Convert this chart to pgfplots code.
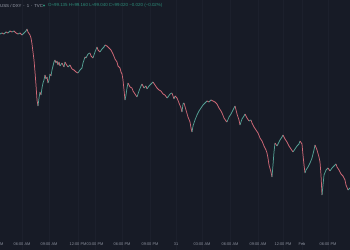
\documentclass[border=0pt]{standalone}
\usepackage{pgfplots}
\pgfplotsset{compat=1.18}
\usepackage{fontspec}
\setmainfont{Liberation Sans}
\definecolor{bgc}{RGB}{23,27,38}
\definecolor{gridc}{RGB}{28,32,44}
\definecolor{tickc}{RGB}{140,145,158}
\definecolor{titlec}{RGB}{160,164,176}
\definecolor{ohlcc}{RGB}{44,140,120}
\begin{document}
\begin{tikzpicture}
\path[use as bounding box] (0,0) rectangle (10cm,7.142857cm);
\clip (0,0) rectangle (10cm,7.142857cm);
\begin{axis}[
  at={(0,0)}, anchor=south west,
  scale only axis, width=10cm, height=7.142857cm,
  xmin=0, xmax=350, ymin=0, ymax=250,
  axis background/.style={fill=bgc},
  axis line style={draw=none},
  major tick length=0pt,
  ytick=\empty,
  xtick={22,49,78,95,122,150,176,202,230,258,283,302,328},
  xticklabels={06:00 AM,09:00 AM,12:00 PM,03:00 PM,06:00 PM,09:00 PM,31,03:00 AM,06:00 AM,09:00 AM,12:00 PM,Feb,06:00 PM},
  xticklabel style={font=\fontsize{3.2}{4}\selectfont, text=tickc, anchor=center, yshift=0.1714cm},
  xmajorgrids,
  grid style={gridc, line width=0.5pt},
  colormap={ud}{rgb255(0cm)=(206,104,118); rgb255(1cm)=(84,160,148)},
  point meta min=0, point meta max=1,
  clip=false,
]
\addplot[mesh, shader=flat corner, point meta=explicit, line width=0.6pt] table[x=x, y=y, meta=d] {
x y d
0 216 1
2 217 0
4 216 1
6 218 0
8 217 1
10 219 0
12 218 1
14 219 0
16 217 0
18 216 1
20 217 0
22 215 1
24 217 1
26 219 1
27 221 0
28 218 0
30 215 0
31 212 0
32 206 0
33 198 0
34 190 0
35 178 0
36 165 0
37 150 0
38 144 1
39 152 1
40 158 0
41 155 1
42 162 1
43 167 1
44 170 1
45 175 0
46 171 1
47 173 0
48 167 1
49 170 1
50 176 0
51 174 1
52 180 1
53 184 1
54 188 1
55 190 0
56 187 1
57 189 0
58 185 1
59 188 0
60 184 1
62 187 0
64 183 1
65 188 0
66 186 0
68 183 1
70 185 0
72 181 0
74 180 0
76 178 0
78 177 1
80 180 1
82 182 1
83 187 1
84 190 1
85 193 0
86 192 1
88 196 1
90 197 0
91 194 0
93 192 1
95 198 1
97 203 0
98 200 0
100 198 1
102 201 1
104 203 1
105 205 0
107 204 0
109 202 0
111 200 0
113 196 0
115 191 0
117 188 0
118 184 0
120 182 0
121 178 0
122 176 0
123 170 0
124 160 0
125 150 1
126 155 1
127 162 1
128 167 0
130 163 0
132 162 0
133 159 0
135 156 0
137 153 1
139 159 1
141 164 1
142 166 0
144 162 1
146 164 0
147 161 1
149 164 1
151 166 1
153 168 0
155 165 0
157 162 0
159 160 0
161 159 0
163 156 0
165 155 0
167 152 1
168 153 1
170 156 1
172 157 0
174 151 1
175 154 0
177 152 0
179 147 0
181 142 0
182 138 1
183 146 1
184 147 0
186 140 0
188 133 0
190 128 0
191 122 0
192 118 1
193 124 1
195 130 1
197 135 1
199 139 1
201 142 1
203 145 1
205 147 1
207 149 0
209 148 1
211 150 0
213 149 0
215 148 0
217 146 0
219 142 0
221 139 0
222 137 0
224 132 0
226 129 0
227 128 1
229 133 1
231 136 1
233 140 1
235 144 0
237 136 0
239 130 0
240 125 1
242 131 1
244 134 1
245 136 0
247 132 0
249 129 1
251 130 0
252 127 0
254 123 0
256 120 0
258 117 0
260 112 0
262 109 0
264 104 0
266 100 0
267 97 0
268 92 0
269 85 0
271 78 0
272 73 1
273 85 1
274 98 1
275 107 0
277 104 1
278 106 1
280 110 1
282 113 1
283 115 0
285 111 0
287 108 0
289 104 0
291 101 0
293 98 1
295 101 1
297 104 1
299 106 1
300 109 0
302 106 0
303 95 0
304 85 0
305 77 1
306 80 1
308 83 1
310 87 1
312 92 1
314 100 1
315 105 0
317 100 0
319 93 0
320 88 0
321 75 0
322 55 1
323 65 1
324 75 1
326 80 1
328 82 0
330 79 1
332 82 1
334 84 1
336 86 0
337 83 0
339 80 0
341 76 0
343 74 0
345 70 0
346 65 0
348 60 1
350 62 0
};
\node[font=\fontsize{3.2}{4}\selectfont, text=tickc, anchor=center] at (axis cs:-5,6) {03:00 AM};
\node[font=\fontsize{3.5}{4}\selectfont, text=titlec, anchor=west, inner sep=0pt] at (axis cs:0,244.5) {USS / DXY $\cdot$ 1 $\cdot$ TVC};
\fill[ohlcc] (axis cs:44,244.5) circle (0.03cm);
\node[font=\fontsize{3.6}{4}\selectfont, text=ohlcc, anchor=west, inner sep=0pt] at (axis cs:48,244.5) {O≈99.135 H≈99.160 L≈99.040 C≈99.020 −0.020 (−0.02\%)};
\end{axis}
\end{tikzpicture}
\end{document}
